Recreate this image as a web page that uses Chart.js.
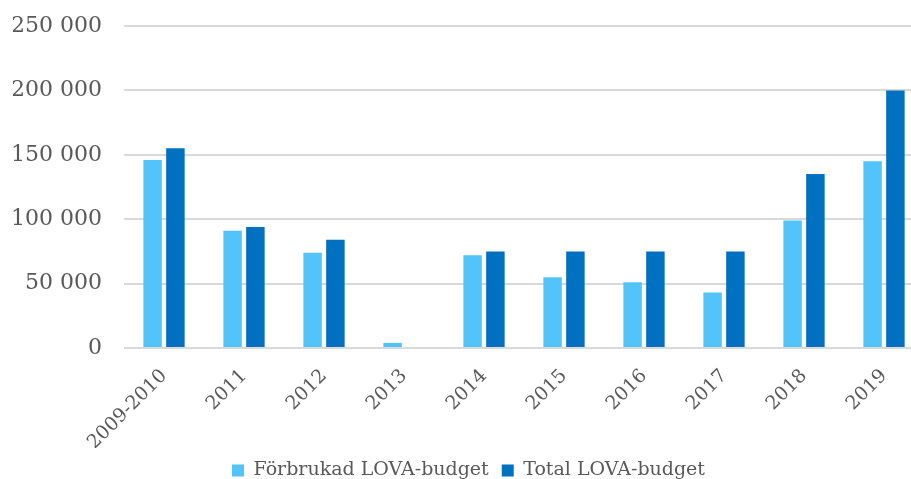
<!DOCTYPE html>
<html>
<head>
<meta charset="utf-8">
<script src="https://cdn.jsdelivr.net/npm/chart.js@4"></script>
<style>
  html, body { margin: 0; padding: 0; background: #fff; overflow: hidden; }
  #wrap { position: relative; width: 924px; height: 490px; }
</style>
</head>
<body>
<div id="wrap"><canvas id="c"></canvas></div>
<script>
const categories = ["2009-2010", "2011", "2012", "2013", "2014", "2015", "2016", "2017", "2018", "2019"];
const forbrukad = [146000, 91000, 74000, 4000, 72000, 55000, 51000, 43000, 99000, 145000];
const total = [155000, 94000, 84000, 0, 75000, 75000, 75000, 75000, 135000, 200000];
const yTicks = [0, 50000, 100000, 150000, 200000, 250000];
const seriesNames = ["Förbrukad LOVA-budget", "Total LOVA-budget"];

const fmt = v => String(v).replace(/\B(?=(\d{3})+(?!\d))/g, " ");
const textColor = "#595959";
const fontFamily = "'DejaVu Serif', 'Liberation Serif', serif";

new Chart(document.getElementById("c"), {
  type: "bar",
  data: {
    labels: categories,
    datasets: [
      { label: seriesNames[0], data: forbrukad, backgroundColor: "#53C4F9", borderWidth: 0 },
      { label: seriesNames[1], data: total, backgroundColor: "#0070C0", borderWidth: 0 }
    ]
  },
  options: {
    responsive: true,
    maintainAspectRatio: false,
    animation: false,
    layout: { padding: { top: 26, left: 13, right: 0, bottom: 0 } },
    datasets: { bar: { categoryPercentage: 0.57, barPercentage: 0.81 } },
    plugins: {
      tooltip: { enabled: false },
      legend: {
        position: "bottom",
        labels: {
          boxWidth: 12, boxHeight: 12, padding: 13,
          color: textColor,
          font: { family: fontFamily, size: 19 }
        }
      }
    },
    scales: {
      x: {
        grid: { display: false },
        border: { display: false },
        afterFit: s => { s.height = 100; s.paddingLeft = 0; s.paddingRight = 0; },
        ticks: {
          color: textColor, maxRotation: 45, minRotation: 45, padding: 9,
          font: { family: fontFamily, size: 19 }
        }
      },
      y: {
        min: 0, max: 250000,
        afterBuildTicks: s => { s.ticks = yTicks.map(v => ({ value: v })); },
        afterFit: s => { s.width = 111; s.paddingTop = 0; s.paddingBottom = 0; },
        grid: { color: "#D9D9D9", lineWidth: 2, drawTicks: false },
        border: { display: false },
        ticks: {
          color: textColor, padding: 22,
          font: { family: fontFamily, size: 22 },
          callback: v => fmt(v)
        }
      }
    }
  }
});
</script>
</body>
</html>
